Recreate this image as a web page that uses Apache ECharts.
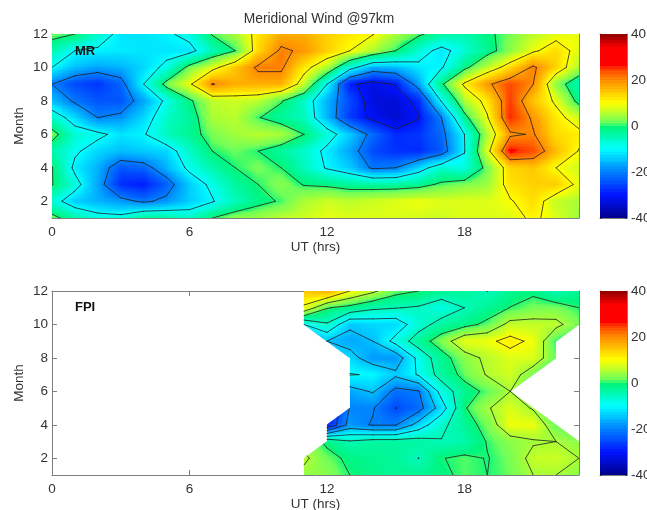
<!DOCTYPE html>
<html><head><meta charset="utf-8">
<script src="https://cdn.jsdelivr.net/npm/echarts@6/dist/echarts.min.js"></script>
<style>html,body{margin:0;padding:0;background:#fff}#c{width:647px;height:510px}</style>
</head><body><div id="c"></div>
<script>
const N = null;
const hours = [0,1,2,3,4,5,6,7,8,9,10,11,12,13,14,15,16,17,18,19,20,21,22,23];
const months = [12,11,10,9,8,7,6,5,4,3,2,1];
const xTicks = [0,6,12,18];
const yTicks = [2,4,6,8,10,12];
const mrLevels = [-30,-20,-10,0,10,20];
const fpiLevels = [-25,-20,-15,-10,-5,0,5,10];
const mrWind = [
[2,0,-6,-12,-12,-11,-8,0.5,5,12,17,17,14,12,10.3,5,1,-3,-4,-1,2,6,8,9],
[-4,-10,-11,-11.5,-12,-12,-12,-5,0,13.3,21,19,14,10,5,0,-7,-12,-7,-2,3,9,13,8],
[-10,-15,-17,-16,-13,-8.5,2,8,15,21,21,12,5.5,-7.5,-16,-15,-11.5,-10.6,-1.5,6,13,21,14,5],
[-20,-25,-27,-22.5,-10,2,9,20.3,17,17,17,7,-10,-29,-32.5,-29.5,-17,-1,11,19,24,20,3.5,-5],
[-15,-21,-24,-24,-17,-8.5,-1,6,7,6,0.5,-6,-16,-25,-33,-33.5,-28,-9.5,5,12,25,15,9,-2],
[-6,-13,-20,-18.5,-13,-6,-3,5,6,0.3,-3,-5,-15.7,-26.5,-31.5,-34,-30.3,-20,-2,9.5,26,19,12,7],
[2.7,-7,-8.5,-12,-10.5,-5,-2,2,4.5,6,5,0,-7,-14,-22,-28,-27,-22,-10,5,19,20.5,13,11.5],
[-4,-9,-13,-15,-14,-13,-6,0,1.5,0,-3,-6,-11.5,-17,-25,-27.5,-28,-23.5,-10.3,8,27,24,16,9.7],
[0.3,-11.5,-16,-24,-22.5,-16,-8.5,-4,0,2,0,-5,-10.6,-14,-21,-20,-13,-6,-8,2,13.5,15,10,7],
[0.3,-7.5,-17,-28,-29.5,-23,-14,-8.5,-3,0,3,-0.3,-1,-2.5,-3,-3,-2,1,2.7,4,12.5,14,14.5,8.5],
[-7,-14,-16,-18,-21,-18.5,-14,-10.5,-5,-1.5,0.5,5,7,6,7,8,9,8,8,8,9.5,13,6.5,5],
[2,-3.5,-7.5,-8,-2.5,-3,-6,0,3,4,6,7,8.5,8,8,8,7.5,7,8,8,8,11,8,4]
];
const fpiWind = [
[N,N,N,N,N,N,N,N,N,N,N,15,17,10,6,1.5,0,-2,-2.5,-5.1,-2,-1,-4.5,-2],
[N,N,N,N,N,N,N,N,N,N,N,9,0.3,-1.5,-4,-4.8,-5.5,-8,-5,-2.3,0.1,2,2,0],
[N,N,N,N,N,N,N,N,N,N,N,-10,-5.5,-14,-13,-13,-7,-3.2,-1.4,1,6.5,6.5,6.3,2],
[N,N,N,N,N,N,N,N,N,N,N,N,-15,-17,-15,-8.3,-2.5,2.5,8.5,9,11.5,9,0.2,N],
[N,N,N,N,N,N,N,N,N,N,N,N,N,-13,-18,-18,-8.5,-2,3,6,8,8,1.3,N],
[N,N,N,N,N,N,N,N,N,N,N,N,N,-9.8,-10.3,-14,-9.5,-3,1.3,5.4,7.5,2,N,N],
[N,N,N,N,N,N,N,N,N,N,N,N,N,-17,-14.5,-21.5,-20.3,-8,-2,1,5,N,N,N],
[N,N,N,N,N,N,N,N,N,N,N,N,N,-19.7,-19.6,-25.1,-22,-12.5,-0.5,4.5,8,4.5,N,N],
[N,N,N,N,N,N,N,N,N,N,N,N,-30,-18,-20.4,-20.3,-13,-6,-2.5,2,9,9,1.5,N],
[N,N,N,N,N,N,N,N,N,N,N,N,-1,-4.5,-3,-3,-3,-4.8,-4,0.3,3,4.5,5,3],
[N,N,N,N,N,N,N,N,N,N,N,6,1.6,-1,-2,-2.5,-5.05,-0.2,1,-0.2,2,6.5,7,5],
[N,N,N,N,N,N,N,N,N,N,N,3.5,3,0,-1.5,-2,-2,-1,1,0,1.5,5,5,3]
];
const cmapStops = [[-40,[0,0,140]],[-30,[0,20,255]],[-20,[0,128,255]],[-10,[0,255,255]],[-0.5,[0,245,125]],[1.5,[110,255,90]],[10,[255,255,0]],[20,[255,140,0]],[25.5,[255,50,0]],[26,[255,0,0]],[34,[255,0,0]],[40,[140,0,0]]];
const barValues = [];
for (let v = -39.375; v < 40; v += 1.25) barValues.push(v);

function colorOf(v){
  if (v <= cmapStops[0][0]) return cmapStops[0][1];
  for (let k = 1; k < cmapStops.length; k++){
    if (v <= cmapStops[k][0]){
      const a = cmapStops[k-1], b = cmapStops[k], t = (v-a[0])/(b[0]-a[0]);
      return [0,1,2].map(c => a[1][c]+(b[1][c]-a[1][c])*t);
    }
  }
  return cmapStops[cmapStops.length-1][1];
}
const css = c => 'rgb('+c.map(Math.round).join(',')+')';
const at = (M,i,m) => M[12-m][i];

function fillSeries(M, ax){
  const cells = [];
  for (let m = 1; m < 12; m++) for (let i = 0; i < 23; i++){
    const n = [at(M,i,m),at(M,i+1,m),at(M,i+1,m+1),at(M,i,m+1)].filter(v => v !== null).length;
    if (n >= 3) cells.push([i,m]);
  }
  return {type:'custom', coordinateSystem:'cartesian2d', xAxisIndex:ax, yAxisIndex:ax, silent:true, clip:true, z:2, progressive:0, animation:false,
    data:cells,
    renderItem(p, api){
      const i = api.value(0), m = api.value(1), ch = [];
      const a=at(M,i,m), b=at(M,i+1,m), c=at(M,i+1,m+1), d=at(M,i,m+1);
      if (a!==null && b!==null && c!==null && d!==null){
        const nx=12, ny=9;
        for (let u=0;u<nx;u++) for (let w=0;w<ny;w++){
          const s=(u+.5)/nx, t=(w+.5)/ny;
          const v=a*(1-s)*(1-t)+b*s*(1-t)+c*s*t+d*(1-s)*t;
          const p0=api.coord([i+u/nx,m+(w+1)/ny]), p1=api.coord([i+(u+1)/nx,m+w/ny]);
          const x0=Math.round(p0[0]),y0=Math.round(p0[1]),x1=Math.round(p1[0]),y1=Math.round(p1[1]);
          if (x1>x0 && y1>y0) ch.push({type:'rect',shape:{x:x0,y:y0,width:x1-x0,height:y1-y0},style:{fill:css(colorOf(v))}});
        }
      } else {
        const all=[[i,m,a],[i+1,m,b],[i+1,m+1,c],[i,m+1,d]].filter(q=>q[2]!==null);
        const [A,B,C]=all, n=12;
        const mix=(u,w)=>{const l=1-u-w; return [A[0]*l+B[0]*u+C[0]*w, A[1]*l+B[1]*u+C[1]*w, A[2]*l+B[2]*u+C[2]*w];};
        const tri=(q1,q2,q3)=>{
          const v=(q1[2]+q2[2]+q3[2])/3, col=css(colorOf(v));
          ch.push({type:'polygon',shape:{points:[q1,q2,q3].map(q=>api.coord([q[0],q[1]]))},style:{fill:col,stroke:col,lineWidth:.5}});
        };
        for (let u=0;u<n;u++) for (let w=0;w<n-u;w++){
          tri(mix(u/n,w/n),mix((u+1)/n,w/n),mix(u/n,(w+1)/n));
          if (u+w<n-1) tri(mix((u+1)/n,w/n),mix((u+1)/n,(w+1)/n),mix(u/n,(w+1)/n));
        }
      }
      return {type:'group',children:ch};
    }};
}

function contourSegs(M, levels){
  const segs=[];
  const cross=(p,q,L)=>{ const t=(L-p[2])/(q[2]-p[2]); return [p[0]+(q[0]-p[0])*t, p[1]+(q[1]-p[1])*t]; };
  for (const L of levels){
    for (let m=1;m<12;m++) for (let i=0;i<23;i++){
      const cs=[[i,m,at(M,i,m)],[i+1,m,at(M,i+1,m)],[i+1,m+1,at(M,i+1,m+1)],[i,m+1,at(M,i,m+1)]].filter(q=>q[2]!==null);
      if (cs.length<3) continue;
      const pts=[];
      for (let k=0;k<cs.length;k++){
        const p=cs[k], q=cs[(k+1)%cs.length];
        if ((p[2]<L)!==(q[2]<L)) pts.push(cross(p,q,L));
      }
      if (pts.length===2) segs.push([pts[0][0],pts[0][1],pts[1][0],pts[1][1]]);
      else if (pts.length===4){
        const avg=(cs[0][2]+cs[1][2]+cs[2][2]+cs[3][2])/4;
        const same=(cs[0][2]<L)===(avg<L);
        if (same){ segs.push([...pts[0],...pts[1]]); segs.push([...pts[2],...pts[3]]); }
        else { segs.push([...pts[0],...pts[3]]); segs.push([...pts[1],...pts[2]]); }
      }
    }
  }
  return segs;
}
function lineSeries(M, levels, ax){
  return {type:'custom', coordinateSystem:'cartesian2d', xAxisIndex:ax, yAxisIndex:ax, silent:true, clip:true, z:3, progressive:0, animation:false,
    data:contourSegs(M,levels),
    renderItem(p, api){
      const a=api.coord([api.value(0),api.value(1)]), b=api.coord([api.value(2),api.value(3)]);
      return {type:'line',shape:{x1:a[0],y1:a[1],x2:b[0],y2:b[1]},style:{stroke:'#202020',lineWidth:.8,lineCap:'round'}};
    }};
}
function barSeries(ax){
  return {type:'custom', coordinateSystem:'cartesian2d', xAxisIndex:ax, yAxisIndex:ax, silent:true, z:2, progressive:0, animation:false,
    data:barValues.map(v=>[0,v]),
    renderItem(p, api){
      const v=api.value(1), a=api.coord([0,v+.625]), b=api.coord([1,v-.625]);
      const y0=Math.round(a[1]), y1=Math.round(b[1]);
      return {type:'rect',shape:{x:a[0],y:y0,width:b[0]-a[0],height:Math.max(y1-y0,1)},style:{fill:css(colorOf(v))}};
    }};
}
const FONT='"Liberation Sans", Arial, sans-serif', TXT='#333333', AX='#7f7f7f', FS=13.5;
const line={lineStyle:{color:AX,width:1}};
const grids=[], xAxes=[], yAxes=[];
function addPlot(top){
  const g=grids.length;
  grids.push({left:52,top:top,width:527,height:184,show:false,containLabel:false,outerBoundsMode:'none'});
  xAxes.push({gridIndex:g,type:'value',min:0,max:23,position:'bottom',
    name:'UT (hrs)',nameLocation:'middle',nameGap:22,nameMoveOverlap:false,nameTextStyle:{fontFamily:FONT,fontSize:FS,color:TXT,verticalAlign:'top'},
    axisLine:{show:true,onZero:false,...line},splitLine:{show:false},
    axisTick:{show:true,inside:true,length:5,customValues:xTicks,...line},
    axisLabel:{show:true,customValues:xTicks,margin:7,fontFamily:FONT,fontSize:FS,color:TXT,formatter:v=>String(v),hideOverlap:false}});
  yAxes.push({gridIndex:g,type:'value',min:1,max:12,position:'left',
    name:'Month',nameLocation:'middle',nameGap:33,nameMoveOverlap:false,nameRotate:90,nameTextStyle:{fontFamily:FONT,fontSize:FS,color:TXT,verticalAlign:'middle'},
    axisLine:{show:true,onZero:false,...line},splitLine:{show:false},
    axisTick:{show:true,inside:true,length:5,customValues:yTicks,...line},
    axisLabel:{show:true,customValues:yTicks,margin:4,fontFamily:FONT,fontSize:FS,color:TXT,formatter:v=>String(v),hideOverlap:false}});
}
function addBar(top){
  const g=grids.length;
  grids.push({left:600,top:top,width:27,height:184,show:false,containLabel:false,outerBoundsMode:'none'});
  xAxes.push({gridIndex:g,type:'value',min:0,max:1,position:'bottom',axisLine:{show:true,onZero:false,...line},axisTick:{show:false},axisLabel:{show:false},splitLine:{show:false}});
  yAxes.push({gridIndex:g,type:'value',min:-40,max:40,interval:20,position:'right',axisLine:{show:true,onZero:false,...line},splitLine:{show:false},
    axisTick:{show:true,inside:true,length:2,lineStyle:{color:'#444',width:1}},
    axisLabel:{show:true,margin:4,fontFamily:FONT,fontSize:FS,color:TXT,hideOverlap:false}});
}
function addMirror(g, isBar){
  xAxes.push({gridIndex:g,type:'value',min:0,max:isBar?1:23,position:'top',axisLine:{show:true,onZero:false,...line},
    axisTick:{show:!isBar,inside:true,length:5,customValues:xTicks,...line},axisLabel:{show:false},splitLine:{show:false}});
  yAxes.push({gridIndex:g,type:'value',min:isBar?-40:1,max:isBar?40:12,interval:isBar?20:undefined,position:isBar?'left':'right',axisLine:{show:true,onZero:false,...line},
    axisTick:isBar?{show:true,inside:true,length:2,lineStyle:{color:'#444',width:1}}:{show:true,inside:true,length:5,customValues:yTicks,...line},axisLabel:{show:false},splitLine:{show:false}});
}
addPlot(34); addPlot(291); addBar(34); addBar(291);
addMirror(0,false); addMirror(1,false); addMirror(2,true); addMirror(3,true);

const chart=echarts.init(document.getElementById('c'),null,{renderer:'canvas'});
chart.setOption({
  animation:false, backgroundColor:'#ffffff',
  title:{text:'Meridional Wind @97km',left:314,top:7,textAlign:'center',textStyle:{fontFamily:FONT,fontSize:13.8,fontWeight:'normal',color:TXT}},
  graphic:[
    {type:'text',left:75,top:45,z:10,style:{text:'MR',font:'bold 13px '+FONT,fill:'#111'}},
    {type:'text',left:75,top:301,z:10,style:{text:'FPI',font:'bold 13px '+FONT,fill:'#111'}}
  ],
  grid:grids, xAxis:xAxes, yAxis:yAxes,
  series:[fillSeries(mrWind,0),lineSeries(mrWind,mrLevels,0),fillSeries(fpiWind,1),lineSeries(fpiWind,fpiLevels,1),barSeries(2),barSeries(3)]
});
</script></body></html>
